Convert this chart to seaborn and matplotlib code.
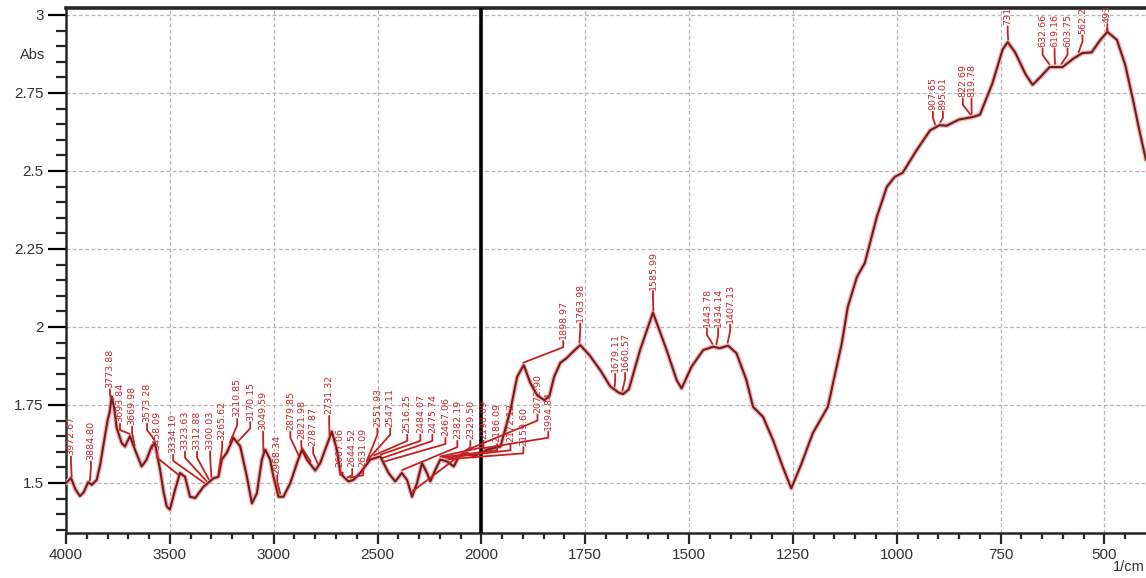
import matplotlib
matplotlib.use("Agg")
import matplotlib.pyplot as plt
import seaborn as sns
import numpy as np
import pandas as pd

# espectro (1/cm, Abs)
wavenumber = [4000, 3976, 3955, 3933, 3915, 3893, 3876, 3852, 3835, 3821, 3800, 3789, 3780, 3768,
              3756, 3732, 3716, 3692, 3668, 3636, 3612, 3588, 3572, 3547, 3530, 3515, 3500, 3475,
              3451, 3427, 3403, 3378, 3338, 3290, 3266, 3250, 3226, 3194, 3161, 3129, 3105, 3081,
              3057, 3041, 3017, 3001, 2977, 2953, 2920, 2888, 2864, 2840, 2800, 2776, 2752, 2720,
              2696, 2680, 2664, 2640, 2616, 2584, 2535, 2487, 2447, 2415, 2383, 2358, 2334, 2310,
              2286, 2262, 2246, 2222, 2198, 2165, 2133, 2109, 2069, 2037, 2005, 1986, 1954, 1930,
              1914, 1898, 1882, 1865, 1848, 1836, 1825, 1810, 1795, 1780, 1762, 1740, 1714, 1690,
              1670, 1659, 1645, 1618, 1587, 1554, 1530, 1518, 1494, 1466, 1442, 1426, 1406, 1386,
              1362, 1346, 1322, 1298, 1274, 1254, 1230, 1202, 1166, 1132, 1118, 1096, 1077, 1048,
              1024, 1005, 986, 952, 920, 897, 880, 850, 817, 800, 770, 745, 733, 715, 690, 673,
              655, 632, 601, 575, 553, 531, 510, 493, 470, 450, 430, 416, 400]
absorbance = [1.50, 1.516, 1.48, 1.458, 1.47, 1.503, 1.494, 1.51, 1.56, 1.617, 1.70, 1.73, 1.777, 1.74,
              1.677, 1.628, 1.617, 1.65, 1.607, 1.553, 1.575, 1.617, 1.628, 1.542, 1.47, 1.425, 1.415, 1.478,
              1.532, 1.52, 1.456, 1.452, 1.488, 1.515, 1.52, 1.575, 1.597, 1.645, 1.617, 1.52, 1.435, 1.467,
              1.575, 1.607, 1.575, 1.52, 1.456, 1.456, 1.50, 1.564, 1.607, 1.575, 1.54, 1.564, 1.607, 1.665,
              1.607, 1.536, 1.52, 1.505, 1.51, 1.532, 1.575, 1.585, 1.532, 1.505, 1.532, 1.51, 1.456, 1.50,
              1.564, 1.532, 1.505, 1.542, 1.575, 1.569, 1.553, 1.585, 1.596, 1.585, 1.596, 1.607, 1.617, 1.734,
              1.84, 1.878, 1.82, 1.78, 1.765, 1.78, 1.84, 1.885, 1.90, 1.92, 1.942, 1.91, 1.862, 1.81,
              1.79, 1.785, 1.80, 1.926, 2.046, 1.926, 1.83, 1.803, 1.873, 1.926, 1.937, 1.932, 1.94, 1.916,
              1.83, 1.744, 1.712, 1.638, 1.55, 1.483, 1.56, 1.66, 1.744, 1.95, 2.064, 2.16, 2.205, 2.353,
              2.449, 2.481, 2.494, 2.567, 2.63, 2.647, 2.645, 2.665, 2.673, 2.68, 2.78, 2.89, 2.913, 2.88, 2.81, 2.776,
              2.80, 2.833, 2.833, 2.86, 2.878, 2.88, 2.92, 2.946, 2.92, 2.84, 2.72, 2.63, 2.535]

# etiquetas de picos
peak_labels = ["3972.67", "3884.80", "3773.88", "3693.84", "3669.98", "3573.28", "3458.09",
               "3334.10", "3323.63", "3312.88", "3300.03", "3265.62",
               "3210.85", "3170.15", "3049.59", "2968.34", "2879.85",
               "2821.98", "2787.87", "2731.32", "2667.06", "2644.52",
               "2631.09", "2551.93", "2547.11",
               "2516.25", "2484.07", "2475.74", "2467.06", "2382.19", "2329.50", "2198.09", "2186.09", "2172.12", "2159.60",
               "2072.90", "1994.84",
               "1898.97", "1763.98", "1679.11", "1660.57", "1585.99",
               "1443.78", "1434.14", "1407.13",
               "907.65", "895.01", "822.69", "819.78", "731.85",
               "632.66", "619.16", "603.75", "562.21", "493.47"]
label_x = [3976, 3880, 3788, 3740, 3682, 3610, 3561,
           3484, 3427, 3369, 3306, 3248,
           3176, 3113, 3051, 2983, 2920,
           2867, 2810, 2733, 2680, 2622,
           2569, 2501, 2439,
           2357, 2294, 2236, 2173, 2116, 2053, 1995, 1962, 1930, 1899,
           1865, 1839,
           1803, 1762, 1678, 1654, 1587,
           1457, 1430, 1401,
           913, 889, 841, 820, 733,
           649, 620, 589, 553, 493]
label_y = [1.59, 1.574, 1.805, 1.695, 1.686, 1.695, 1.606,
           1.596, 1.606, 1.606, 1.606, 1.638,
           1.71, 1.70, 1.67, 1.53, 1.67,
           1.64, 1.62, 1.72, 1.55, 1.55,
           1.55, 1.68, 1.68,
           1.66, 1.66, 1.66, 1.65, 1.64, 1.64, 1.64, 1.63, 1.63, 1.62,
           1.725, 1.67,
           1.96, 2.016, 1.855, 1.858, 2.12,
           2.0, 2.0, 2.013,
           2.695, 2.695, 2.737, 2.737, 2.968,
           2.897, 2.897, 2.897, 2.94, 2.975]

x_major = [4000, 3500, 3000, 2500, 2000, 1750, 1500, 1250, 1000, 750, 500]
x_major_labels = ["4000", "3500", "3000", "2500", "2000", "1750", "1500", "1250", "1000", "750", "500"]
y_major = [1.5, 1.75, 2.0, 2.25, 2.5, 2.75, 3.0]
y_major_labels = ["1.5", "1.75", "2", "2.25", "2.5", "2.75", "3"]

df = pd.DataFrame({"wn": wavenumber, "abs": absorbance})


# eje x partido: por debajo de 2000 la escala es el doble
def fwd(x):
    x = np.asarray(x, dtype=float)
    return np.where(x <= 2000, x / 250.0, 8 + (x - 2000) / 500.0)


def inv(u):
    u = np.asarray(u, dtype=float)
    return np.where(u <= 8, u * 250.0, 2000 + (u - 8) * 500.0)


sns.set_style("ticks")
plt.rcParams["font.family"] = ["Liberation Sans", "DejaVu Sans"]

fig = plt.figure(figsize=(11.46, 5.78), dpi=100)
ax = fig.add_axes([0.0576, 0.078, 0.9424, 0.908])
ax.set_xscale("function", functions=(fwd, inv))

# halo rosado + linea
ax.plot(df["wn"], df["abs"], color="#f5b5b5", lw=3.4, zorder=3, solid_capstyle="round")
sns.lineplot(data=df, x="wn", y="abs", sort=False, color="#6e1c1c", lw=1.5, ax=ax, zorder=4)

ax.set_xlim(4000, 400)
ax.set_ylim(1.34, 3.022)

ax.set_xticks(x_major)
ax.set_xticklabels(x_major_labels)
minor_x = [v for v in list(range(3900, 2000, -100)) + list(range(1950, 400, -50)) if v not in x_major]
ax.set_xticks(minor_x, minor=True)
ax.set_yticks(y_major)
ax.set_yticklabels(y_major_labels)
ax.set_yticks(np.arange(1.35, 3.0, 0.05), minor=True)

for v in x_major:
    if v not in (4000, 2000):
        ax.axvline(v, color="#b5b5b5", lw=0.9, ls=(0, (3, 2)), zorder=1)
for v in y_major:
    ax.axhline(v, color="#b5b5b5", lw=0.9, ls=(0, (3, 2)), zorder=1)
ax.axvline(2000, color="black", lw=2.6, zorder=5)

ax.tick_params(axis="y", which="major", length=13, width=1.6, labelsize=11, pad=3, colors="black", labelcolor="#333333")
ax.tick_params(axis="y", which="minor", length=7, width=1.6)
ax.tick_params(axis="x", which="major", length=8, width=1.6, labelsize=11, pad=3, labelcolor="#333333")
ax.tick_params(axis="x", which="minor", length=4.5, width=1.6)

for s in ["left", "bottom"]:
    ax.spines[s].set_linewidth(1.8)
ax.spines["top"].set_linewidth(2.6)
ax.spines["right"].set_visible(False)
ax.set_xlabel("")
ax.set_ylabel("")

# etiquetas de los picos con sus lineas guia
wn_sorted = np.array(wavenumber[::-1], dtype=float)
ab_sorted = np.array(absorbance[::-1], dtype=float)
for txt, lx, ly in zip(peak_labels, label_x, label_y):
    pk = float(txt)
    py = np.interp(pk, wn_sorted, ab_sorted) + 0.01
    ax.plot([lx, lx, pk], [ly - 0.005, ly - 0.025, py], color="#c62020", lw=1.3, zorder=6)
    ax.text(lx, ly, txt, rotation=90, ha="center", va="bottom", fontsize=6.8,
            color="#c0282d", zorder=7, clip_on=True, family="DejaVu Sans")

fig.text(20 / 1146, 1 - 55 / 578, "Abs", fontsize=10.5, color="#333333", va="center", ha="left")
fig.text(1145 / 1146, 1 - 567 / 578, "1/cm", fontsize=10.5, color="#333333", va="center", ha="right")

fig.savefig("out.png", dpi=100)
